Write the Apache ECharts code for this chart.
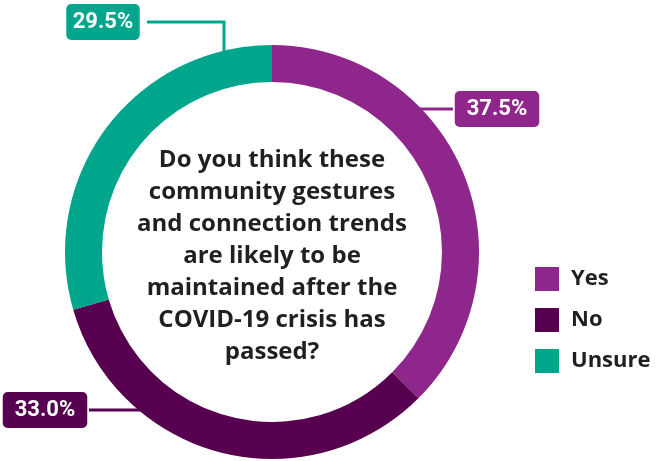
<!DOCTYPE html>
<html>
<head>
<meta charset="utf-8">
<script src="https://cdn.jsdelivr.net/npm/echarts@6/dist/echarts.min.js"></script>
<style>
  html, body { margin: 0; padding: 0; background: #ffffff; }
  #chart { width: 662px; height: 461px; }
</style>
</head>
<body>
<div id="chart"></div>
<script>
// Survey answers and their shares (percent)
const categories = ['Yes', 'No', 'Unsure'];
const shares = [37.5, 33.0, 29.5];
const colors = ['#8E268B', '#570050', '#00A68C'];
const question = 'Do you think these\ncommunity gestures\nand connection trends\nare likely to be\nmaintained after the\nCOVID-19 crisis has\npassed?';

// Ring geometry
const CX = 272, CY = 252, R_IN = 170, R_OUT = 207;

// Callout boxes: centre of each box and how its leader reaches the ring
const callouts = [
  { cx: 497, cy: 109, side: 'left' },              // Yes
  { cx: 45,  cy: 410, side: 'right' },             // No
  { cx: 103, cy: 22,  side: 'right', elbowX: 224 } // Unsure
];
const BOX_HALF_W = 44;

function ringXAt(y, dir) {
  const dy = y - CY;
  return CX + dir * Math.sqrt(Math.max(0, R_OUT * R_OUT - dy * dy));
}
function ringYAt(x) {
  const dx = x - CX;
  return CY - Math.sqrt(Math.max(0, R_OUT * R_OUT - dx * dx));
}

const chart = echarts.init(document.getElementById('chart'), null, { renderer: 'canvas' });

const data = categories.map((name, i) => ({
  name: name,
  value: shares[i],
  itemStyle: { color: colors[i] },
  label: { backgroundColor: colors[i] },
  labelLine: { lineStyle: { color: colors[i] } }
}));

chart.setOption({
  animation: false,
  backgroundColor: '#ffffff',
  legend: {
    orient: 'vertical',
    left: 530,
    top: 262,
    itemWidth: 24,
    itemHeight: 24,
    itemGap: 17,
    icon: 'rect',
    selectedMode: false,
    data: categories,
    textStyle: {
      fontFamily: 'Open Sans',
      fontWeight: 'bold',
      fontSize: 22,
      color: '#231F20',
      padding: [0, 0, 0, 7]
    }
  },
  graphic: [{
    type: 'text',
    x: CX,
    y: 256,
    style: {
      text: question,
      fontFamily: 'Open Sans',
      fontWeight: 'bold',
      fontSize: 24,
      lineHeight: 32,
      fill: '#231F20',
      align: 'center',
      verticalAlign: 'middle'
    }
  }],
  series: [{
    type: 'pie',
    center: [CX, CY],
    radius: [R_IN, R_OUT],
    startAngle: 90,
    clockwise: true,
    silent: true,
    data: data,
    label: {
      show: true,
      position: 'outside',
      alignTo: 'none',
      overflow: 'none',
      edgeDistance: 0,
      formatter: p => p.value.toFixed(1) + '%',
      color: '#ffffff',
      fontFamily: 'Roboto',
      fontWeight: 'bold',
      fontSize: 22,
      borderRadius: 5,
      padding: [8, 12, 6, 12]
    },
    labelLine: {
      show: true,
      length: 10,
      length2: 10,
      lineStyle: { width: 3 }
    },
    labelLayout: function (params) {
      const c = callouts[params.dataIndex];
      let pts;
      if (c.elbowX !== undefined) {
        const x0 = c.cx + BOX_HALF_W;
        pts = [[x0, c.cy], [c.elbowX, c.cy], [c.elbowX, ringYAt(c.elbowX) + 4]];
      } else if (c.side === 'left') {
        const x0 = c.cx - BOX_HALF_W;
        const rx = ringXAt(c.cy, 1) - 4;
        pts = [[rx, c.cy], [(rx + x0) / 2, c.cy], [x0, c.cy]];
      } else {
        const x0 = c.cx + BOX_HALF_W;
        const rx = ringXAt(c.cy, -1) + 4;
        pts = [[x0, c.cy], [(rx + x0) / 2, c.cy], [rx, c.cy]];
      }
      return {
        x: c.cx,
        y: c.cy,
        align: 'center',
        verticalAlign: 'middle',
        labelLinePoints: pts
      };
    }
  }]
});
</script>
</body>
</html>
